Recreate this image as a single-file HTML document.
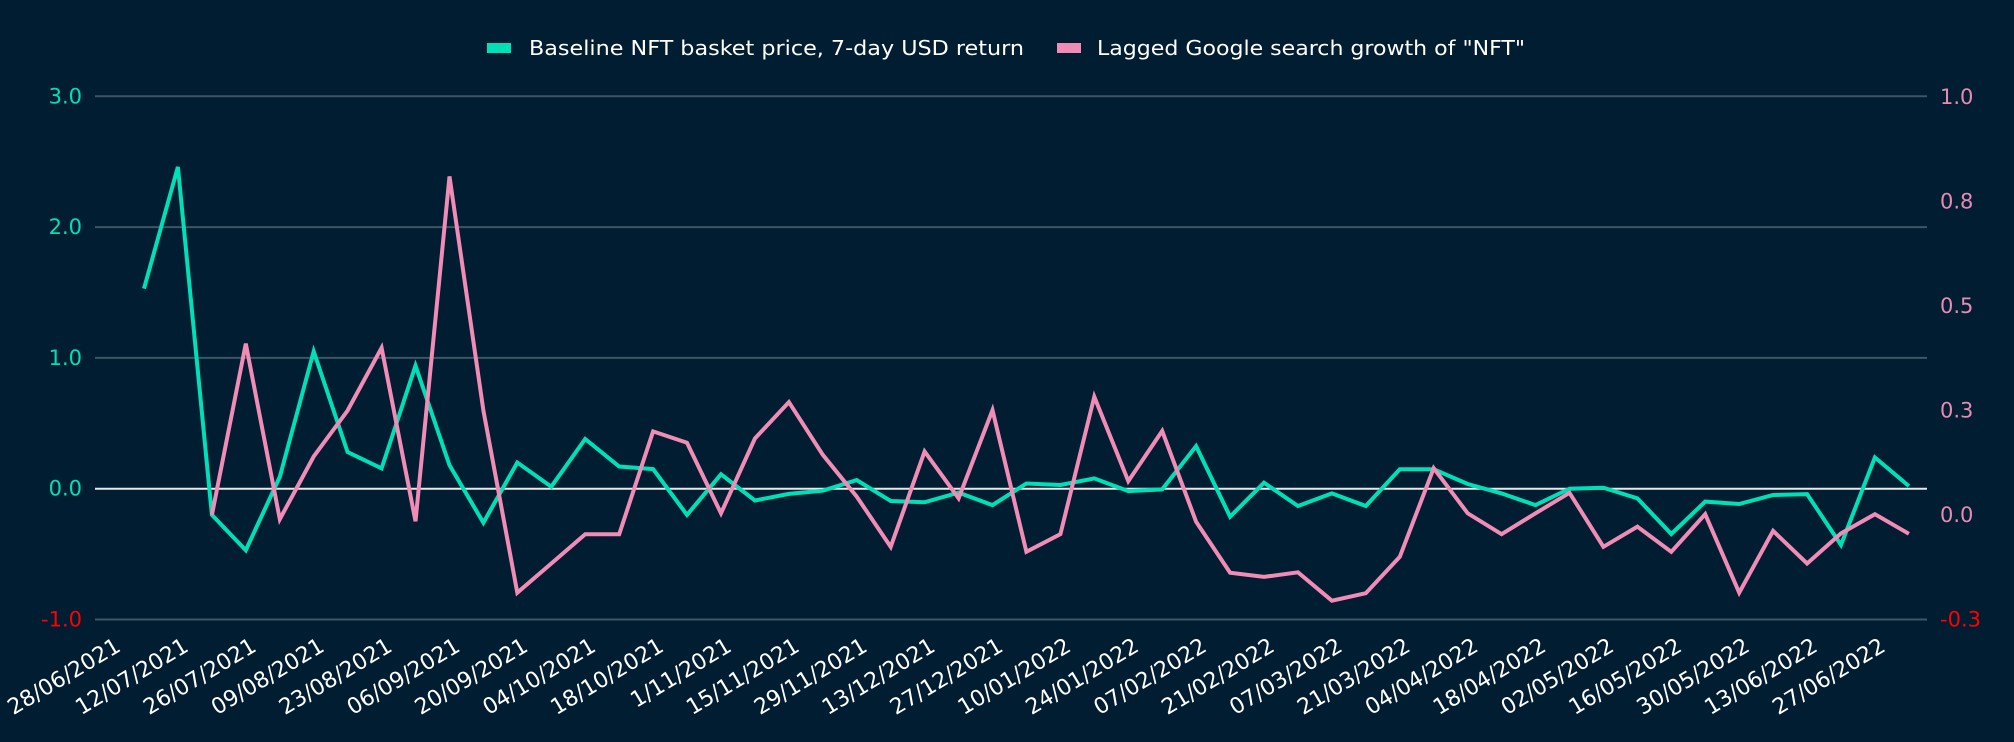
<!DOCTYPE html>
<html><head><meta charset="utf-8"><style>
html,body{margin:0;padding:0;background:#001d32;}
svg{display:block;font-family:"DejaVu Sans","Liberation Sans",sans-serif;}
</style></head><body>
<svg id="chart" width="2014" height="742" viewBox="0 0 2014 742" xmlns="http://www.w3.org/2000/svg">
<rect width="2014" height="742" fill="#001d32"/>
<g>
  <g>
    <rect x="487" y="43" width="24" height="10" fill="#00e0b8"/>
    <text x="529" y="55" fill="#ffffff" font-size="20" textLength="495" lengthAdjust="spacingAndGlyphs">Baseline NFT basket price, 7-day USD return</text>
  </g>
  <g>
    <rect x="1057" y="43" width="24" height="10" fill="#f08cb6"/>
    <text x="1097" y="55" fill="#ffffff" font-size="20" textLength="428" lengthAdjust="spacingAndGlyphs">Lagged Google search growth of "NFT"</text>
  </g>
</g>
<g id="grid"></g>
<g id="yleft"></g>
<g id="yright"></g>
<g id="xaxis"></g>
<g id="series"></g>
</svg>
<script>
const xLabels = ["28/06/2021","12/07/2021","26/07/2021","09/08/2021","23/08/2021","06/09/2021","20/09/2021","04/10/2021","18/10/2021","1/11/2021","15/11/2021","29/11/2021","13/12/2021","27/12/2021","10/01/2022","24/01/2022","07/02/2022","21/02/2022","07/03/2022","21/03/2022","04/04/2022","18/04/2022","02/05/2022","16/05/2022","30/05/2022","13/06/2022","27/06/2022"];
const leftTicks = [3, 2, 1, 0, -1];
const leftTickLabels = ["3.0","2.0","1.0","0.0","-1.0"];
const rightTicks = [1.0, 0.75, 0.5, 0.25, 0, -0.25];
const rightTickLabels = ["1.0","0.8","0.5","0.3","0.0","-0.3"];
const greenStart = 1;
const greenValues = [1.53,2.46,-0.20,-0.47,0.09,1.05,0.28,0.155,0.94,0.18,-0.26,0.20,0.015,0.38,0.17,0.15,-0.20,0.11,-0.09,-0.04,-0.015,0.066,-0.094,-0.104,-0.03,-0.125,0.04,0.028,0.079,-0.018,-0.005,0.326,-0.214,0.046,-0.132,-0.036,-0.132,0.148,0.148,0.036,-0.036,-0.125,0.0,0.008,-0.074,-0.346,-0.099,-0.117,-0.048,-0.041,-0.43,0.239,0.02];
const pinkStart = 3;
const pinkValues = [0.0,0.41,-0.01,0.14,0.25,0.40,-0.015,0.81,0.25,-0.186,-0.116,-0.046,-0.046,0.20,0.173,0.004,0.183,0.27,0.144,0.044,-0.076,0.152,0.04,0.251,-0.088,-0.046,0.283,0.081,0.201,-0.016,-0.138,-0.148,-0.137,-0.205,-0.187,-0.10,0.112,0.004,-0.046,0.004,0.053,-0.076,-0.028,-0.088,0.002,-0.186,-0.038,-0.116,-0.044,0.002,-0.045];

const NS = "http://www.w3.org/2000/svg";
const PL = 95, PR = 1927;
const xScale = i => 110.06 + i * 33.94;
const yLeft = v => 488.7 - v * 130.8;
const yRight = v => 515 - v * 418;
function mk(tag, attrs, parent){ const e = document.createElementNS(NS, tag); for (const k in attrs) e.setAttribute(k, attrs[k]); parent.appendChild(e); return e; }

const grid = document.getElementById('grid');
leftTicks.forEach(v => {
  const l = mk('line', {x1:PL, x2:PR, y1:yLeft(v), y2:yLeft(v), stroke: v===0 ? '#e8e8e8' : '#3d5565', 'stroke-width': 2}, grid);
  
  
});
const yl = document.getElementById('yleft');
leftTicks.forEach((v, k) => {
  const t = mk('text', {x:82, y:yLeft(v)+7, 'text-anchor':'end', 'font-size':21, fill: v<0 ? '#ff0000' : '#00e0b8'}, yl);
  t.textContent = leftTickLabels[k];
  
  
});
const yr = document.getElementById('yright');
rightTicks.forEach((v, k) => {
  const t = mk('text', {x:1940, y:yRight(v)+7, 'font-size':21, fill: v<0 ? '#ff0000' : '#e88bb4'}, yr);
  t.textContent = rightTickLabels[k];
  
  
});
const xa = document.getElementById('xaxis');
xLabels.forEach((s, k) => {
  const x = xScale(k*2) + 12;
  const t = mk('text', {transform:`translate(${x},650) rotate(-31)`, 'text-anchor':'end', 'font-size':22, fill:'#ffffff'}, xa);
  t.textContent = s;
  
  
});
const ser = document.getElementById('series');
const gp = greenValues.map((v,i) => xScale(greenStart+i).toFixed(1)+','+yLeft(v).toFixed(1)).join(' ');
const g = mk('polyline', {points:gp, fill:'none', stroke:'#00e0b8', 'stroke-width':4, 'stroke-linejoin':'miter'}, ser);


const pp = pinkValues.map((v,i) => xScale(pinkStart+i).toFixed(1)+','+yRight(v).toFixed(1)).join(' ');
const p = mk('polyline', {points:pp, fill:'none', stroke:'#f08cb6', 'stroke-width':4, 'stroke-linejoin':'miter'}, ser);


</script>
</body></html>
